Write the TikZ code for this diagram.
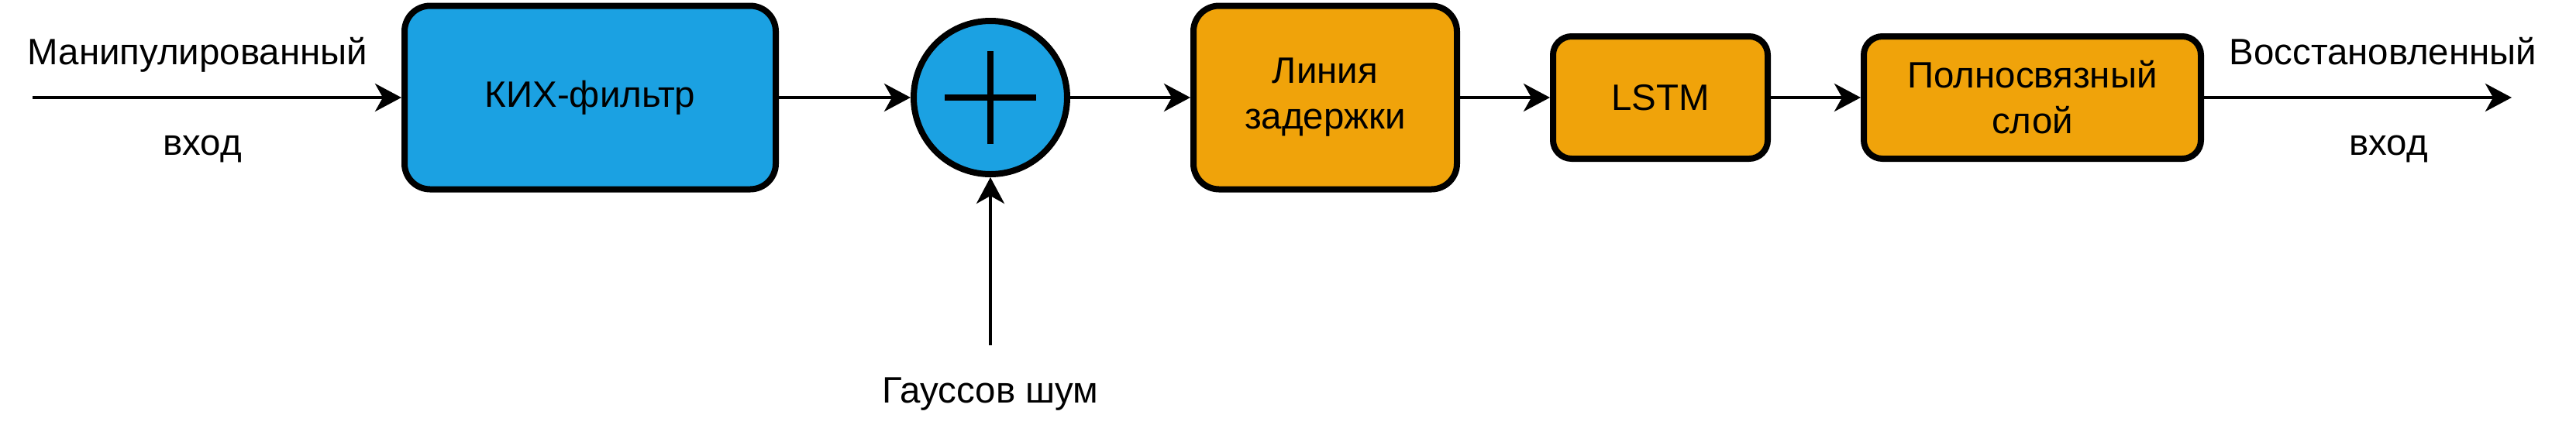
\documentclass[tikz,border=0pt]{standalone}
\usepackage{fontspec}
\setmainfont{Liberation Sans}
\usetikzlibrary{arrows.meta}
\definecolor{drawblue}{HTML}{1BA1E2}
\definecolor{draworange}{HTML}{F0A30A}
\tikzset{
  txt/.style={font=\fontsize{13.5}{16.8}\selectfont, inner sep=0pt},
  blockbox/.style={draw=black, line width=0.08cm, rounded corners=0.33cm, align=center, inner sep=0pt,
    font=\fontsize{13.5}{16.8}\selectfont},
  smallbox/.style={blockbox, rounded corners=0.24cm},
  sumnode/.style={circle, draw=black, line width=0.08cm, fill=drawblue, minimum size=1.98cm, inner sep=0pt},
  conn/.style={line width=0.04cm, -{Stealth[length=0.34cm, width=0.36cm, inset=0.1cm]}},
}
\begin{document}
\begin{tikzpicture}
\useasboundingbox (0,0) rectangle (33.24,-5.48);
\node[blockbox, fill=drawblue, minimum width=4.79cm, minimum height=2.37cm] (fir) at (7.615,-1.26) {КИХ-фильтр};
\node[sumnode] (sum) at (12.78,-1.26) {};
\draw[line width=0.08cm] ([xshift=-0.59cm]sum.center) -- ([xshift=0.59cm]sum.center);
\draw[line width=0.08cm] ([yshift=-0.60cm]sum.center) -- ([yshift=0.60cm]sum.center);
\node[blockbox, fill=draworange, minimum width=3.40cm, minimum height=2.37cm] (delay) at (17.10,-1.26) {Линия\\задержки};
\node[smallbox, fill=draworange, minimum width=2.77cm, minimum height=1.58cm] (lstm) at (21.425,-1.26) {LSTM};
\node[smallbox, fill=draworange, minimum width=4.35cm, minimum height=1.58cm] (fc) at (26.225,-1.26) {Полносвязный\\слой};
\coordinate (in) at (0.42,-1.26);
\coordinate (out) at (32.41,-1.26);
\coordinate (noise) at (12.78,-4.46);
\node[txt, anchor=base] (inlabel1) at (2.55,-0.83) {Манипулированный};
\node[txt, anchor=base] (inlabel2) at (2.61,-2.00) {вход};
\node[txt, anchor=base] (outlabel1) at (30.75,-0.83) {Восстановленный};
\node[txt, anchor=base] (outlabel2) at (30.82,-2.00) {вход};
\node[txt, anchor=base] (noiselabel) at (12.78,-5.20) {Гауссов шум};
\draw[conn] (in) -- (fir);
\draw[conn] (fir) -- (sum);
\draw[conn] (sum) -- (delay);
\draw[conn] (delay) -- (lstm);
\draw[conn] (lstm) -- (fc);
\draw[conn] (fc) -- (out);
\draw[conn] (noise) -- (sum);
\end{tikzpicture}
\end{document}
